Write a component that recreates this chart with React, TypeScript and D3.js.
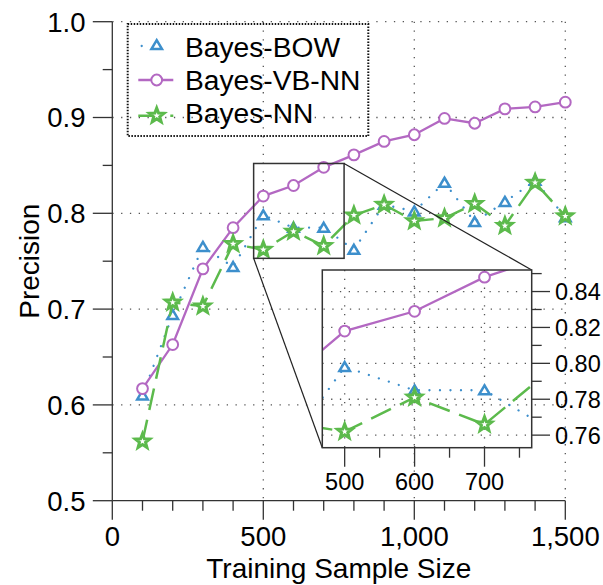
import React from "react";
import * as d3 from "d3";

const sizes = [100, 200, 300, 400, 500, 600, 700, 800, 900, 1000, 1100, 1200, 1300, 1400, 1500];
const bayesBOW = [0.610, 0.694, 0.765, 0.744, 0.798, 0.785, 0.785, 0.762, 0.809, 0.802, 0.832, 0.791, 0.812, 0.834, 0.796];
const bayesVBNN = [0.617, 0.663, 0.742, 0.785, 0.818, 0.829, 0.848, 0.861, 0.875, 0.882, 0.899, 0.894, 0.909, 0.911, 0.916];
const bayesNN = [0.562, 0.707, 0.703, 0.768, 0.762, 0.781, 0.766, 0.798, 0.809, 0.792, 0.795, 0.810, 0.787, 0.832, 0.797];
const seriesNames = ["Bayes-BOW", "Bayes-VB-NN", "Bayes-NN"];

const xMajorTicks = [0, 500, 1000, 1500];
const xMinorTicks = [100, 200, 300, 400, 600, 700, 800, 900, 1100, 1200, 1300, 1400];
const yMajorTicks = [0.5, 0.6, 0.7, 0.8, 0.9, 1.0];
const yMinorTicks = [0.55, 0.65, 0.75, 0.85, 0.95];
const insetXMajor = [500, 600, 700];
const insetXMinor = [550, 650, 750];
const insetYMajor = [0.76, 0.78, 0.8, 0.82, 0.84];
const insetYMinor = [0.77, 0.79, 0.81, 0.83, 0.85];
const xDomain = [0, 1500];
const yDomain = [0.5, 1.0];
const insetXDomain = [468, 767.5];
const insetYDomain = [0.753, 0.852];

const BLUE = "#3d8fcc";
const PURPLE = "#b368c2";
const GREEN = "#5cba4c";
const FONT = "'Liberation Sans', Arial, Helvetica, sans-serif";

function starPath(cx: number, cy: number, R = 7.6, r = 3.2) {
  const pts: string[] = [];
  for (let i = 0; i < 10; i++) {
    const a = -Math.PI / 2 + (i * Math.PI) / 5;
    const rr = i % 2 === 0 ? R : r;
    pts.push(`${(cx + rr * Math.cos(a)).toFixed(2)},${(cy + rr * Math.sin(a)).toFixed(2)}`);
  }
  return "M" + pts.join("L") + "Z";
}
function triPath(cx: number, cy: number) {
  return `M${cx},${cy - 4.9}L${cx + 5.3},${cy + 4.1}L${cx - 5.3},${cy + 4.1}Z`;
}

type Sc = d3.ScaleLinear<number, number>;

function Series({ xs, ys, clipId }: { xs: Sc; ys: Sc; clipId?: string }) {
  const mk = (vals: number[]) =>
    d3.line<number>().x((_, i) => xs(sizes[i])).y((v) => ys(v))(vals) || "";
  return (
    <g clipPath={clipId ? `url(#${clipId})` : undefined}>
      <path d={mk(bayesBOW)} fill="none" stroke={BLUE} strokeWidth={2.3} strokeDasharray="0.01 10.5" strokeLinecap="round" />
      {bayesBOW.map((v, i) => (
        <path key={"b" + i} d={triPath(xs(sizes[i]), ys(v))} fill="white" stroke={BLUE} strokeWidth={2.5} strokeLinejoin="miter" />
      ))}
      <path d={mk(bayesVBNN)} fill="none" stroke={PURPLE} strokeWidth={2.3} />
      {bayesVBNN.map((v, i) => (
        <circle key={"p" + i} cx={xs(sizes[i])} cy={ys(v)} r={5.4} fill="white" stroke={PURPLE} strokeWidth={2} />
      ))}
      <path d={mk(bayesNN)} fill="none" stroke={GREEN} strokeWidth={2.5} strokeDasharray="22 10" />
      {bayesNN.map((v, i) => (
        <path key={"g" + i} d={starPath(xs(sizes[i]), ys(v))} fill="white" stroke={GREEN} strokeWidth={3} strokeLinejoin="miter" />
      ))}
    </g>
  );
}

export default function App() {
  const W = 603, H = 585;
  const x = d3.scaleLinear(xDomain, [112.3, 565.3]);
  const y = d3.scaleLinear(yDomain, [500.7, 21.7]);
  const xi = d3.scaleLinear(insetXDomain, [322.3, 531.7]);
  const yi = d3.scaleLinear(insetYDomain, [447.7, 270]);
  const fmtX = d3.format(",");
  const fmtY = d3.format(".1f");
  const fmtI = d3.format(".2f");
  const grid = { stroke: "#555", strokeWidth: 1.3, strokeDasharray: "1.3 7.5" };
  const axisC = "#333";

  const zx0 = x(insetXDomain[0]), zx1 = x(insetXDomain[1]);
  const zy0 = y(insetYDomain[1]), zy1 = y(insetYDomain[0]);
  const ix0 = xi.range()[0], ix1 = xi.range()[1];
  const iy0 = yi.range()[1], iy1 = yi.range()[0];

  return (
    <svg width={W} height={H} style={{ position: "absolute", left: 0, top: 0, background: "white" }} fontFamily={FONT}>
      <defs>
        <clipPath id="insetClip">
          <rect x={ix0} y={iy0} width={ix1 - ix0} height={iy1 - iy0} />
        </clipPath>
      </defs>
      {/* main grid */}
      {yMajorTicks.filter((t) => t > 0.5).map((t) => (
        <line key={"gy" + t} x1={x(0)} x2={x(1500)} y1={y(t)} y2={y(t)} {...grid} />
      ))}
      {xMajorTicks.filter((t) => t > 0).map((t) => (
        <line key={"gx" + t} x1={x(t)} x2={x(t)} y1={y(1)} y2={y(0.5)} {...grid} />
      ))}

      {/* legend box */}
      <rect x={127.7} y={24} width={240.6} height={112} fill="none" stroke="#111" strokeWidth={2} strokeDasharray="1.5 1.5" />

      {/* main series */}
      <Series xs={x} ys={y} />

      {/* axes */}
      <line x1={x(0)} x2={x(1500)} y1={y(0.5)} y2={y(0.5)} stroke={axisC} strokeWidth={1.3} />
      <line x1={x(0)} x2={x(0)} y1={y(1)} y2={y(0.5)} stroke={axisC} strokeWidth={1.3} />
      {xMajorTicks.map((t) => (
        <g key={"xt" + t}>
          <line x1={x(t)} x2={x(t)} y1={y(0.5)} y2={y(0.5) + 19} stroke={axisC} strokeWidth={1.3} />
          <text x={x(t)} y={546} fontSize={27.5} textAnchor="middle">{fmtX(t)}</text>
        </g>
      ))}
      {xMinorTicks.map((t) => (
        <line key={"xm" + t} x1={x(t)} x2={x(t)} y1={y(0.5)} y2={y(0.5) + 10} stroke={axisC} strokeWidth={1.3} />
      ))}
      {yMajorTicks.map((t) => (
        <g key={"yt" + t}>
          <line x1={x(0) - 19.5} x2={x(0)} y1={y(t)} y2={y(t)} stroke={axisC} strokeWidth={1.3} />
          <text x={85.5} y={y(t) + 9.8} fontSize={27.5} textAnchor="end">{fmtY(t)}</text>
        </g>
      ))}
      {yMinorTicks.map((t) => (
        <line key={"ym" + t} x1={x(0) - 9.6} x2={x(0)} y1={y(t)} y2={y(t)} stroke={axisC} strokeWidth={1.3} />
      ))}
      <text x={x(750)} y={578} fontSize={28} textAnchor="middle">Training Sample Size</text>
      <text transform={`translate(39,${(y(0.5) + y(1)) / 2}) rotate(-90)`} fontSize={28} textAnchor="middle">Precision</text>

      {/* legend entries */}
      {seriesNames.map((name, i) => {
        const cy = [45, 80, 115.7][i];
        const by = [56.7, 90, 123.3][i];
        const cx = 156.7;
        return (
          <g key={name}>
            {i === 0 && (
              <>
                <line x1={141.7} x2={171.7} y1={cy + 1} y2={cy + 1} stroke={BLUE} strokeWidth={2.3} strokeDasharray="0.01 15" strokeLinecap="round" />
                <path d={triPath(cx, cy)} fill="white" stroke={BLUE} strokeWidth={2.5} />
              </>
            )}
            {i === 1 && (
              <>
                <line x1={138.3} x2={173.3} y1={cy} y2={cy} stroke={PURPLE} strokeWidth={2.3} />
                <circle cx={cx} cy={cy} r={5.4} fill="white" stroke={PURPLE} strokeWidth={2} />
              </>
            )}
            {i === 2 && (
              <>
                <line x1={138.3} x2={173.3} y1={cy} y2={cy} stroke={GREEN} strokeWidth={2.5} strokeDasharray="22 10" />
                <path d={starPath(cx, cy)} fill="white" stroke={GREEN} strokeWidth={3} />
              </>
            )}
            <text x={185} y={by} fontSize={28.2}>{name}</text>
          </g>
        );
      })}

      {/* zoom rectangle and connectors */}
      <rect x={zx0} y={zy0} width={zx1 - zx0} height={zy1 - zy0} fill="none" stroke="#333" strokeWidth={1.5} />
      <line x1={zx1} y1={zy0} x2={ix1} y2={iy0} stroke="#222" strokeWidth={1.2} />
      <line x1={zx0} y1={zy1} x2={ix0} y2={iy1} stroke="#222" strokeWidth={1.2} />

      {/* inset */}
      {insetYMajor.map((t) => (
        <line key={"igy" + t} x1={ix0} x2={ix1} y1={yi(t)} y2={yi(t)} {...grid} />
      ))}
      {insetXMajor.map((t) => (
        <line key={"igx" + t} x1={xi(t)} x2={xi(t)} y1={iy0} y2={iy1} {...grid} />
      ))}
      <Series xs={xi} ys={yi} clipId="insetClip" />
      <rect x={ix0} y={iy0} width={ix1 - ix0} height={iy1 - iy0} fill="none" stroke="#333" strokeWidth={1.5} />
      {insetXMajor.map((t) => (
        <g key={"ixt" + t}>
          <line x1={xi(t)} x2={xi(t)} y1={iy1} y2={iy1 + 19} stroke={axisC} strokeWidth={1.3} />
          <text x={xi(t)} y={489.8} fontSize={23.5} textAnchor="middle">{t}</text>
        </g>
      ))}
      {insetXMinor.map((t) => (
        <line key={"ixm" + t} x1={xi(t)} x2={xi(t)} y1={iy1} y2={iy1 + 10} stroke={axisC} strokeWidth={1.3} />
      ))}
      {insetYMajor.map((t) => (
        <g key={"iyt" + t}>
          <line x1={ix1} x2={ix1 + 18.3} y1={yi(t)} y2={yi(t)} stroke={axisC} strokeWidth={1.3} />
          <text x={555} y={yi(t) + 8.4} fontSize={23.5}>{fmtI(t)}</text>
        </g>
      ))}
      {insetYMinor.map((t) => (
        <line key={"iym" + t} x1={ix1} x2={ix1 + 10} y1={yi(t)} y2={yi(t)} stroke={axisC} strokeWidth={1.3} />
      ))}
    </svg>
  );
}
